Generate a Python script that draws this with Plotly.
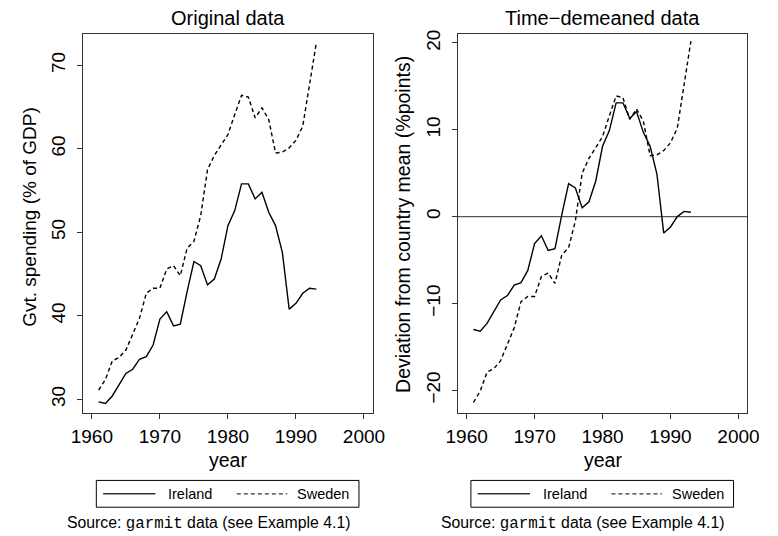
import numpy as np
import plotly.graph_objects as go

# Government spending, % of GDP (garmit data)
years = list(range(1961, 1994))
ireland = [29.7, 29.5, 30.4, 31.8, 33.1, 33.6, 34.8, 35.1, 36.5, 39.6,
           40.5, 38.8, 39.0, 42.9, 46.5, 46.0, 43.7, 44.4, 46.8, 50.8,
           52.6, 55.8, 55.8, 54.0, 54.8, 52.4, 50.8, 47.6, 40.8, 41.5,
           42.7, 43.3, 43.2]
sweden = [31.1, 32.4, 34.6, 35.0, 35.9, 37.7, 39.7, 42.7, 43.3, 43.3,
          45.6, 46.0, 44.8, 48.1, 48.9, 52.0, 57.5, 59.2, 60.5, 61.7,
          64.1, 66.4, 66.2, 63.7, 64.9, 63.5, 59.5, 59.6, 60.1, 61.0,
          62.7, 67.8, 72.7]

x_ticks = [1960, 1970, 1980, 1990, 2000]
y_ticks_orig = [30, 40, 50, 60, 70]
y_ticks_dm = [-20, -10, 0, 10, 20]

# time-demeaned series: deviation from each country's own mean
ireland_dm = list(np.array(ireland) - np.mean(ireland))
sweden_dm = list(np.array(sweden) - np.mean(sweden))

W, H = 778, 536
FONT = "Liberation Sans, Arial, Helvetica, sans-serif"
MONO = "Liberation Mono, Courier New, monospace"
AX = "#333333"
DASH = "4px,3px"

fig = go.Figure()

line_solid = dict(color="black", width=1.4)
line_dash = dict(color="black", width=1.4, dash=DASH)

fig.add_trace(go.Scatter(x=years, y=ireland, mode="lines", name="Ireland",
                         line=line_solid, xaxis="x", yaxis="y"))
fig.add_trace(go.Scatter(x=years, y=sweden, mode="lines", name="Sweden",
                         line=line_dash, xaxis="x", yaxis="y"))
fig.add_trace(go.Scatter(x=years, y=ireland_dm, mode="lines", name="Ireland",
                         line=line_solid, xaxis="x2", yaxis="y2"))
fig.add_trace(go.Scatter(x=years, y=sweden_dm, mode="lines", name="Sweden",
                         line=line_dash, xaxis="x2", yaxis="y2"))


def px_x(v):
    return v / W


def px_y(v):
    return 1 - v / H


xcommon = dict(range=[1958.7, 2001.3], tickvals=x_ticks, ticks="outside",
               ticklen=5, tickwidth=1.2, tickcolor=AX, showline=True,
               linecolor=AX, linewidth=1.3, mirror=True, showgrid=False,
               zeroline=False, tickfont=dict(family=FONT, size=19, color="black"),
               ticklabelstandoff=1)
ycommon = dict(ticks="outside", ticklen=5, tickwidth=1.2, tickcolor=AX,
               showline=True, linecolor=AX, linewidth=1.3, mirror=True,
               showgrid=False, zeroline=False, tickangle=-90,
               tickfont=dict(family=FONT, size=19, color="black"),
               ticklabelstandoff=4)

fig.update_layout(
    width=W, height=H, autosize=False, showlegend=False,
    margin=dict(l=0, r=0, t=0, b=0),
    paper_bgcolor="white", plot_bgcolor="white",
    xaxis=dict(domain=[px_x(73.3), px_x(372.3)], anchor="y", **xcommon),
    xaxis2=dict(domain=[px_x(460), px_x(758.7)], anchor="y2", **xcommon),
    yaxis=dict(domain=[px_y(412), px_y(30)], anchor="x",
               range=[28.37, 73.77], tickvals=y_ticks_orig, **ycommon),
    yaxis2=dict(domain=[px_y(412), px_y(30)], anchor="x2",
                range=[-22.6, 21.06], tickvals=y_ticks_dm, **ycommon),
)

# zero reference line on the demeaned panel
fig.add_shape(type="line", xref="x2 domain", yref="y2", x0=0, x1=1, y0=0, y1=0,
              line=dict(color="#555555", width=1.3), layer="below")


def text(t, xc, yc, size, angle=0, anchor="center"):
    fig.add_annotation(text=t, x=px_x(xc), y=px_y(yc), xref="paper",
                       yref="paper", showarrow=False, textangle=angle,
                       xanchor=anchor, yanchor="middle",
                       font=dict(family=FONT, size=size, color="black"))


# panel titles and axis titles
text("Original data", 222.8, 14.5, 20)
text("Time\u2212demeaned data", 609.4, 14.5, 20)
text("year", 222.8, 459, 19.5)
text("year", 609.4, 459, 19.5)
text("Gvt. spending (% of GDP)", 18, 214, 19, angle=-90)
text("Deviation from country mean (%points)", 404, 222, 19.5, angle=-90)

# legend box below each panel
for dx in [0, 386.5]:
    fig.add_shape(type="rect", xref="paper", yref="paper",
                  x0=px_x(87 + dx), x1=px_x(358 + dx),
                  y0=px_y(507), y1=px_y(480),
                  line=dict(color="black", width=1), fillcolor="white")
    fig.add_shape(type="line", xref="paper", yref="paper",
                  x0=px_x(94 + dx), x1=px_x(148 + dx),
                  y0=px_y(493.5), y1=px_y(493.5),
                  line=dict(color="#333333", width=1.6))
    fig.add_shape(type="line", xref="paper", yref="paper",
                  x0=px_x(232 + dx), x1=px_x(284 + dx),
                  y0=px_y(493.5), y1=px_y(493.5),
                  line=dict(color="#333333", width=1.2, dash=DASH))
    text("Ireland", 159 + dx, 493.5, 14.5, anchor="left")
    text("Sweden", 292 + dx, 493.5, 14.5, anchor="left")

src = ("Source: <span style='font-family:" + MONO + "'>"
       "garmit</span> data (see Example 4.1)")
for xc in [203, 589]:
    text(src, xc, 523, 15.8)

fig.write_html("out.html")
